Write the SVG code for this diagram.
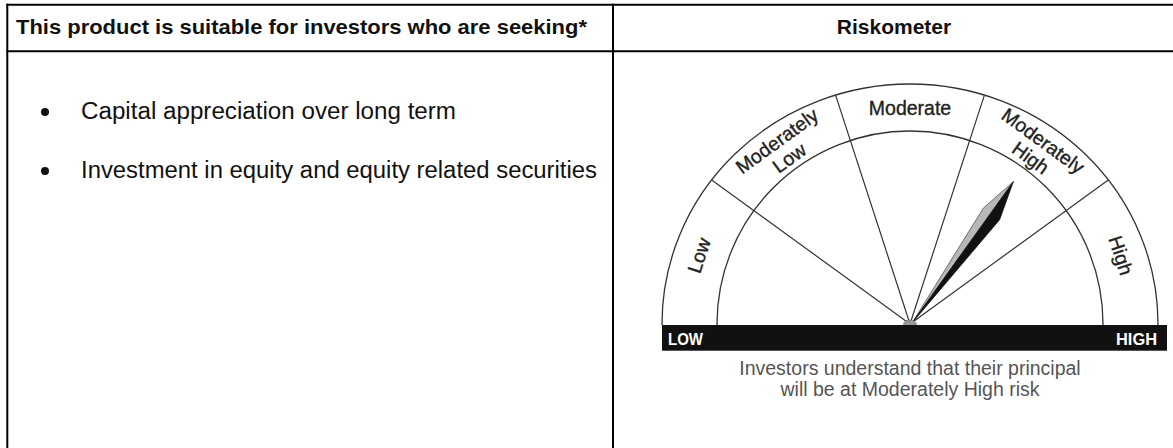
<svg xmlns="http://www.w3.org/2000/svg" width="1173" height="448" viewBox="0 0 1173 448">
  <style>
    .rule { stroke: #000; stroke-width: 2; fill: none; }
    .hdr { font-family: "Liberation Sans", Arial, sans-serif; font-weight: bold; font-size: 21px; fill: #111; }
    .body { font-family: "Liberation Sans", Arial, sans-serif; font-size: 23px; fill: #111; }
    .arc { stroke: #333; stroke-width: 1.3; fill: none; }
    .spoke { stroke: #333; stroke-width: 1.2; }
    .lbl { font-family: "Liberation Sans", Arial, sans-serif; font-size: 19.5px; fill: #222; stroke: #222; stroke-width: 0.35; text-anchor: middle; }
    .bar { font-family: "Liberation Sans", Arial, sans-serif; font-weight: bold; font-size: 16px; fill: #fff; }
    .note { font-family: "Liberation Sans", Arial, sans-serif; font-size: 19.5px; fill: #555; text-anchor: middle; }
  </style>

  <g id="table">
    <line class="rule" x1="6.3" y1="4.7" x2="1173" y2="4.7"/>
    <line class="rule" x1="6.3" y1="51.3" x2="1173" y2="51.3"/>
    <line class="rule" x1="7.3" y1="3.7" x2="7.3" y2="448"/>
    <line class="rule" x1="613" y1="3.7" x2="613" y2="448"/>
  </g>

  <g id="header-left">
    <text class="hdr" x="16" y="34" textLength="571" lengthAdjust="spacingAndGlyphs">This product is suitable for investors who are seeking*</text>
  </g>
  <g id="header-right">
    <text class="hdr" x="894" y="34" text-anchor="middle">Riskometer</text>
  </g>

  <g id="bullets">
    <circle cx="45" cy="112" r="4" fill="#111"/>
    <text class="body" x="81" y="119" textLength="375" lengthAdjust="spacingAndGlyphs">Capital appreciation over long term</text>
    <circle cx="45" cy="171" r="4" fill="#111"/>
    <text class="body" x="81" y="178" textLength="516" lengthAdjust="spacingAndGlyphs">Investment in equity and equity related securities</text>
  </g>

  <g id="riskometer">
    <path class="arc" d="M 662 325 L 662 324 A 248 240 0 0 1 1158 324 L 1158 325"/>
    <path class="arc" d="M 717 325 L 717 324 A 193 193 0 0 1 1103 324 L 1103 325"/>
    <g id="spokes">
      <line class="spoke" x1="910" y1="324" x2="711.7" y2="179.9"/>
      <line class="spoke" x1="910" y1="324" x2="835.6" y2="95.1"/>
      <line class="spoke" x1="910" y1="324" x2="984.4" y2="95.1"/>
      <line class="spoke" x1="910" y1="324" x2="1108.3" y2="179.9"/>
    </g>

    <g id="labels">
      <text class="lbl" x="910" y="109" transform="rotate(-72 910 324)">Low</text>
      <text class="lbl" x="910" y="104.5" transform="rotate(-36 910 324)">Moderately</text>
      <text class="lbl" x="910" y="125.5" transform="rotate(-36 910 324)">Low</text>
      <text class="lbl" x="910" y="115">Moderate</text>
      <text class="lbl" x="910" y="104.5" transform="rotate(36 910 324)">Moderately</text>
      <text class="lbl" x="910" y="125.5" transform="rotate(36 910 324)">High</text>
      <text class="lbl" x="910" y="109" transform="rotate(72 910 324)">High</text>
    </g>

    <g id="needle">
      <polygon points="912,323 983.4,208.1 1013.3,181.7" fill="#b8b8b8" stroke="#555" stroke-width="0.8" stroke-linejoin="round"/>
      <polygon points="912,323 1013.3,181.7 999.6,219.7" fill="#111" stroke="#111" stroke-width="0.8" stroke-linejoin="round"/>
      <ellipse cx="910" cy="324.5" rx="6.5" ry="4.5" fill="#999" stroke="#777" stroke-width="0.8"/>
    </g>

    <g id="scale-bar">
      <rect x="662" y="325" width="505" height="25.7" fill="#111"/>
      <text class="bar" x="668" y="344.5" textLength="35" lengthAdjust="spacingAndGlyphs">LOW</text>
      <text class="bar" x="1116" y="344.5" textLength="41" lengthAdjust="spacingAndGlyphs">HIGH</text>
    </g>

    <g id="caption">
      <text class="note" x="910" y="375">Investors understand that their principal</text>
      <text class="note" x="910" y="396">will be at Moderately High risk</text>
    </g>
  </g>
</svg>
